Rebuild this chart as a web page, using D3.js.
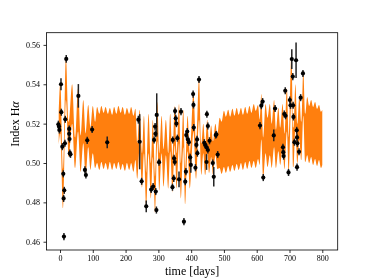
<!DOCTYPE html>
<html>
<head>
<meta charset="utf-8">
<script src="https://cdn.jsdelivr.net/npm/d3@7"></script>
<style>
  body { margin: 0; background: #fff; }
  svg { display: block; will-change: transform; }
  .tick text { font-family: "Liberation Serif", serif; font-size: 8px; fill: #000; }
  .tick line { stroke: #000; stroke-width: 0.8; }
</style>
</head>
<body>
<svg id="chart" width="374" height="280"></svg>
<script>
// model envelope (upper / lower edge of the orange band) at its turning points
const modelT = [
  -4, 1, 9, 18, 27, 37, 46, 55, 63, 71, 78, 86, 93, 100, 107,
  113, 120, 126, 133, 139, 146, 152, 159, 165, 172, 178, 185, 191, 198, 204, 211, 217, 224, 230,
  236, 243, 250, 256, 263, 270, 277, 283, 290, 297, 303, 310, 316, 323, 330, 336, 343, 350, 356, 363,
  369, 376, 382, 389, 396, 407, 415, 424, 431, 437, 443, 449, 455, 461, 467, 474, 480,
  487, 493, 500, 506, 513, 519, 526, 532, 539, 545, 552, 558, 565, 571, 578, 584, 591, 597,
  604, 609, 614, 620, 627, 633, 640, 646, 653, 659, 666, 672, 679, 685, 692, 698, 706, 712, 718, 724,
  730, 736, 742, 748, 754, 760, 766, 772, 778, 784, 790, 796, 800
];
const modelHi = [
  .525, .541, .497, .554, .521, .540, .513, .538, .514, .532, .515, .5295, .518, .529, .521,
  .5285, .525, .529, .5255, .5285, .525, .528, .5245, .5285, .525, .529, .5255, .5285, .5245, .528, .525, .5285, .524, .5275,
  .510, .527, .505, .524, .495, .525, .500, .522, .493, .531, .505, .524, .507, .522, .505, .525, .503, .529, .505, .530,
  .500, .527, .497, .524, .505, .536, .510, .543, .510, .520, .510, .522, .511, .519, .511, .520, .514,
  .523, .521, .5265, .5235, .527, .5235, .5275, .524, .528, .5245, .528, .5245, .5285, .525, .529, .5255, .530, .5265,
  .5295, .522, .535, .513, .530, .523, .530, .520, .532, .517, .528, .518, .530, .515, .538, .513, .556, .518, .540, .520,
  .534, .521, .547, .525, .5335, .529, .532, .5285, .531, .5275, .5295, .526, .527
];
const modelLo = [
  .509, .515, .477, .532, .503, .520, .4975, .516, .4955, .510, .4925, .508, .4965, .505, .4975,
  .500, .4965, .5005, .497, .500, .4965, .5005, .4965, .500, .497, .5005, .4965, .4995, .496, .500, .4965, .500, .4955, .5015,
  .492, .508, .4875, .505, .4765, .505, .482, .503, .4745, .511, .486, .505, .488, .504, .487, .506, .485, .509, .487, .510,
  .482, .508, .479, .506, .487, .516, .492, .522, .494, .505, .494, .505, .495, .503, .494, .504, .497,
  .4975, .4945, .498, .495, .4985, .4955, .499, .496, .4995, .4965, .500, .4965, .5005, .497, .501, .4975, .501, .4975,
  .502, .499, .512, .4925, .505, .498, .504, .4975, .508, .4975, .506, .499, .508, .497, .516, .494, .532, .498, .518, .500,
  .512, .5015, .524, .5005, .504, .500, .503, .499, .502, .4985, .5015, .4975, .499
];

// observations
const obsDay = [
  -5, -3, -2, 3, 4, 7, 10, 11, 12, 13, 15, 16, 19, 28, 28, 29, 30, 32, 56, 76, 79, 83, 98, 144,
  239, 243, 249, 263, 278, 284, 287, 290, 291, 292, 294, 295, 302,
  343, 344, 347, 348, 350, 351, 353, 355, 358, 363, 369, 378, 382, 384, 385, 388, 390, 393, 397, 399,
  406, 407, 408, 413, 416, 418, 419, 424, 440, 443, 447, 447, 448, 451, 451, 456, 466, 469, 475, 477, 481,
  610, 614, 618, 620, 652, 656, 680, 681, 682, 684, 687, 688, 697, 701, 703, 707, 710, 711, 712, 715,
  720, 722, 723, 723, 724, 729, 734, 741
];
const obsVal = [
  .5197, .5185, .5168, .540, .5258, .5083, .4945, .4820, .4626, .4861, .510, .5222, .5529, .5173, .5148, .5122, .5050, .5044, .5341, .4965, .4939, .5115, .5170, .5105,
  .5220, .5108, .4907, .4780, .4865, .4880, .5117, .5185, .5148, .4855, .4761, .5244, .5004,
  .4877, .5117, .4922, .5024, .5005, .5264, .5227, .5200, .5126, .4917, .5261, .4702, .4905, .4956, .5142, .5160, .5120, .5106, .5029, .4990,
  .5350, .5295, .5180, .4976, .5092, .5120, .5050, .5424, .5103, .5092, .5080, .5005, .5248, .5066, .5188, .5113, .5000, .4930, .5142, .5145, .5043,
  .5190, .5291, .5312, .4926, .5140, .5277, .5080, .5055, .5035, .5249, .5367, .5240, .4952, .5320, .5293, .5528, .5439, .5293, .5234, .5106,
  .5522, .5166, .5130, .4979, .5100, .5057, .5332, .5455
];
const obsErr = [
  .0018, .0018, .0018, .003, .0018, .0018, .0018, .0018, .0018, .0018, .0018, .0018, .002, .0018, .0018, .0018, .0018, .0018, .006, .0018, .0018, .0018, .0018, .003,
  .002, .014, .0018, .003, .0018, .0018, .0018, .0018, .0018, .0018, .0018, .011, .0018,
  .0018, .0018, .0018, .0018, .0018, .0018, .0018, .0018, .0018, .004, .0018, .0018, .0018, .0018, .0018, .0018, .0018, .0018, .0018, .004,
  .0018, .0018, .0018, .0018, .0018, .0018, .0018, .0018, .0018, .0018, .0018, .004, .0018, .0018, .0018, .0018, .0018, .005, .0018, .0018, .0018,
  .0018, .0018, .0018, .0018, .003, .0018, .0018, .0018, .0018, .0018, .0018, .0018, .0018, .0018, .0018, .005, .0018, .0018, .0018, .0018,
  .009, .0018, .0018, .0018, .0018, .0018, .0018, .0018
];

const xTicks = [0, 100, 200, 300, 400, 500, 600, 700, 800];
const yTicks = [0.46, 0.48, 0.50, 0.52, 0.54, 0.56];

const svg = d3.select('#chart');
const plot = { left: 46.5, right: 337.7, top: 32.7, bottom: 250 };

const x = d3.scaleLinear().domain([-41.2, 847]).range([plot.left, plot.right]);
const y = d3.scaleLinear().domain([0.4558, 0.5662]).range([plot.bottom, plot.top]);

// orange band
const band = modelT.map((t, i) => ({ t: t, hi: modelHi[i], lo: modelLo[i] }));
const area = d3.area()
    .x(d => x(d.t))
    .y0(d => y(d.lo))
    .y1(d => y(d.hi))
    .curve(d3.curveMonotoneX);

svg.append('path')
    .datum(band)
    .attr('d', area)
    .style('fill', '#ff7f0e')
    .style('stroke', 'none');

// error bars + points
const obs = obsDay.map((t, i) => ({ t: t, v: obsVal[i], e: obsErr[i] }));

svg.selectAll('line.err')
    .data(obs)
    .enter()
    .append('line')
    .attr('class', 'err')
    .attr('x1', d => x(d.t))
    .attr('x2', d => x(d.t))
    .attr('y1', d => y(d.v - d.e))
    .attr('y2', d => y(d.v + d.e))
    .style('stroke', '#222')
    .style('stroke-width', 1.5);

svg.selectAll('circle.obs')
    .data(obs)
    .enter()
    .append('circle')
    .attr('class', 'obs')
    .attr('cx', d => x(d.t))
    .attr('cy', d => y(d.v))
    .attr('r', 2.1)
    .style('fill', '#000');

// axes
const gx = svg.append('g')
    .attr('transform', `translate(0,${plot.bottom})`)
    .attr('color', '#000')
    .call(d3.axisBottom(x).tickValues(xTicks).tickSize(3).tickPadding(2.5).tickFormat(d3.format('d')))
    .call(g => g.select('.domain').remove());

const gy = svg.append('g')
    .attr('transform', `translate(${plot.left},0)`)
    .attr('color', '#000')
    .call(d3.axisLeft(y).tickValues(yTicks).tickSize(3).tickPadding(3.5).tickFormat(d3.format('.2f')))
    .call(g => g.select('.domain').remove());

gx.selectAll('text').attr('fill', '#000');
gy.selectAll('text').attr('fill', '#000');

svg.append('rect')
    .attr('x', plot.left)
    .attr('y', plot.top)
    .attr('width', plot.right - plot.left)
    .attr('height', plot.bottom - plot.top)
    .style('fill', 'none')
    .style('stroke', '#000')
    .style('stroke-width', 0.8);

// labels
svg.append('text')
    .attr('x', (plot.left + plot.right) / 2)
    .attr('y', 275)
    .attr('text-anchor', 'middle')
    .style('font-family', '"Liberation Serif", serif')
    .style('font-size', '12px')
    .text('time [days]');

const yl = svg.append('text')
    .attr('transform', 'translate(19,124) rotate(-90)')
    .attr('text-anchor', 'middle')
    .style('font-family', '"Liberation Serif", serif')
    .style('font-size', '12px');
yl.append('tspan').text('Index H');
yl.append('tspan').style('font-style', 'italic').text('α');
</script>
</body>
</html>
